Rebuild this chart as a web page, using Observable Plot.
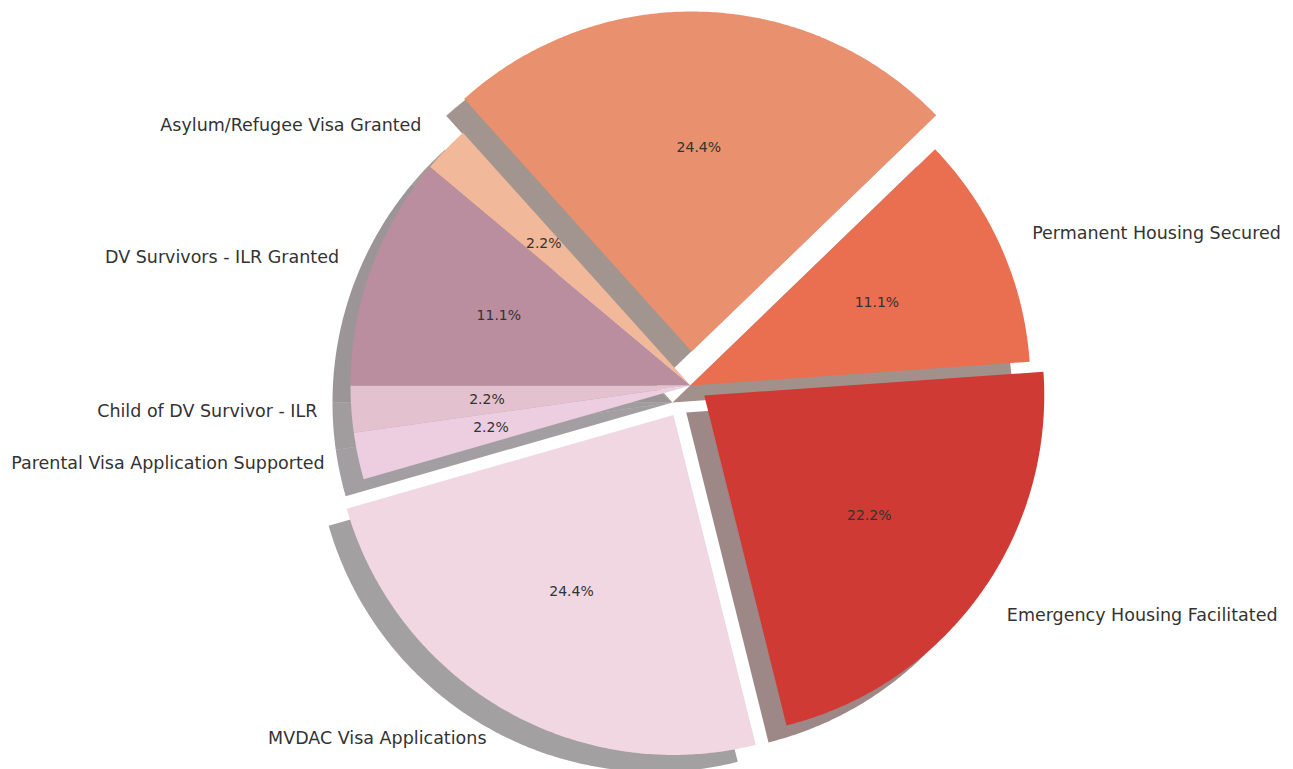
<!DOCTYPE html>
<html>
<head>
<meta charset="utf-8">
<script src="https://cdn.jsdelivr.net/npm/d3@7"></script>
<script src="https://cdn.jsdelivr.net/npm/@observablehq/plot@0.6"></script>
<style>
  body { margin: 0; background: #ffffff; }
  #chart svg { display: block; }
</style>
</head>
<body>
<div id="chart"></div>
<script>
// Slices in counter-clockwise order starting at 180°
const categories = [
  "Child of DV Survivor - ILR",
  "Parental Visa Application Supported",
  "MVDAC Visa Applications",
  "Emergency Housing Facilitated",
  "Permanent Housing Secured",
  "Other (label off-canvas)",
  "Asylum/Refugee Visa Granted",
  "DV Survivors - ILR Granted"
];
const showLabel = [true, true, true, true, true, false, true, true];
const values = [1, 1, 11, 10, 5, 11, 1, 5];
const explode = [0, 0, 0.1, 0.05, 0, 0.1, 0, 0];
const colors = ["#E3C1CE", "#ECCEE0", "#F0D7E1", "#D03A34", "#EA6E50", "#E9906E", "#F1B899", "#BA8E9E"];
const startAngle = 180;

const W = 1293, H = 769, R = 340, CX = 690, CY = 385;
const labelDistance = 1.1, pctDistance = 0.6;
const shadowDX = -18 / R, shadowDY = -17 / R;

const total = d3.sum(values);
const rad = (a) => a * Math.PI / 180;

const wedges = [];
const shadows = [];
const labelsLeft = [];
const labelsRight = [];
const pcts = [];
let cum = 0;
categories.forEach((cat, i) => {
  const a0 = startAngle + cum / total * 360;
  cum += values[i];
  const a1 = startAngle + cum / total * 360;
  const mid = (a0 + a1) / 2;
  const ox = explode[i] * Math.cos(rad(mid));
  const oy = explode[i] * Math.sin(rad(mid));
  const pts = [[ox, oy]];
  const n = Math.max(4, Math.ceil((a1 - a0) * 2));
  for (let k = 0; k <= n; k++) {
    const a = rad(a0 + (a1 - a0) * k / n);
    pts.push([ox + Math.cos(a), oy + Math.sin(a)]);
  }
  pts.push([ox, oy]);
  pts.forEach(([x, y], j) => {
    wedges.push({key: cat, order: j, x, y});
    shadows.push({key: "shadow " + cat, order: j, x: x + shadowDX, y: y + shadowDY});
  });
  const lx = ox + labelDistance * Math.cos(rad(mid));
  const ly = oy + labelDistance * Math.sin(rad(mid));
  if (showLabel[i]) (lx < 0 ? labelsLeft : labelsRight).push({x: lx, y: ly, text: cat});
  pcts.push({
    x: ox + pctDistance * Math.cos(rad(mid)),
    y: oy + pctDistance * Math.sin(rad(mid)),
    text: (values[i] / total * 100).toFixed(1) + "%"
  });
});

const shadowColors = colors.map((c) => {
  const r = d3.rgb(c);
  return d3.rgb(r.r * 0.3, r.g * 0.3, r.b * 0.3).formatHex();
});

const chart = Plot.plot({
  width: W,
  height: H,
  margin: 0,
  style: {fontFamily: "'DejaVu Sans', sans-serif", background: "#ffffff"},
  x: {domain: [-CX / R, (W - CX) / R], axis: null},
  y: {domain: [-(H - CY) / R, CY / R], axis: null},
  color: {
    type: "ordinal",
    domain: categories.concat(categories.map((c) => "shadow " + c)),
    range: colors.concat(shadowColors)
  },
  marks: [
    Plot.line(shadows, {x: "x", y: "y", z: "key", fill: "key", fillOpacity: 0.5, stroke: "none"}),
    Plot.line(wedges, {x: "x", y: "y", z: "key", fill: "key", stroke: "none"}),
    Plot.text(labelsLeft, {x: "x", y: "y", text: "text", textAnchor: "end", fontSize: 17.5, fill: "#333333"}),
    Plot.text(labelsRight, {x: "x", y: "y", text: "text", textAnchor: "start", fontSize: 17.5, fill: "#333333"}),
    Plot.text(pcts, {x: "x", y: "y", text: "text", textAnchor: "middle", fontSize: 14, fill: "#333333"})
  ]
});
document.getElementById("chart").appendChild(chart);
</script>
</body>
</html>
